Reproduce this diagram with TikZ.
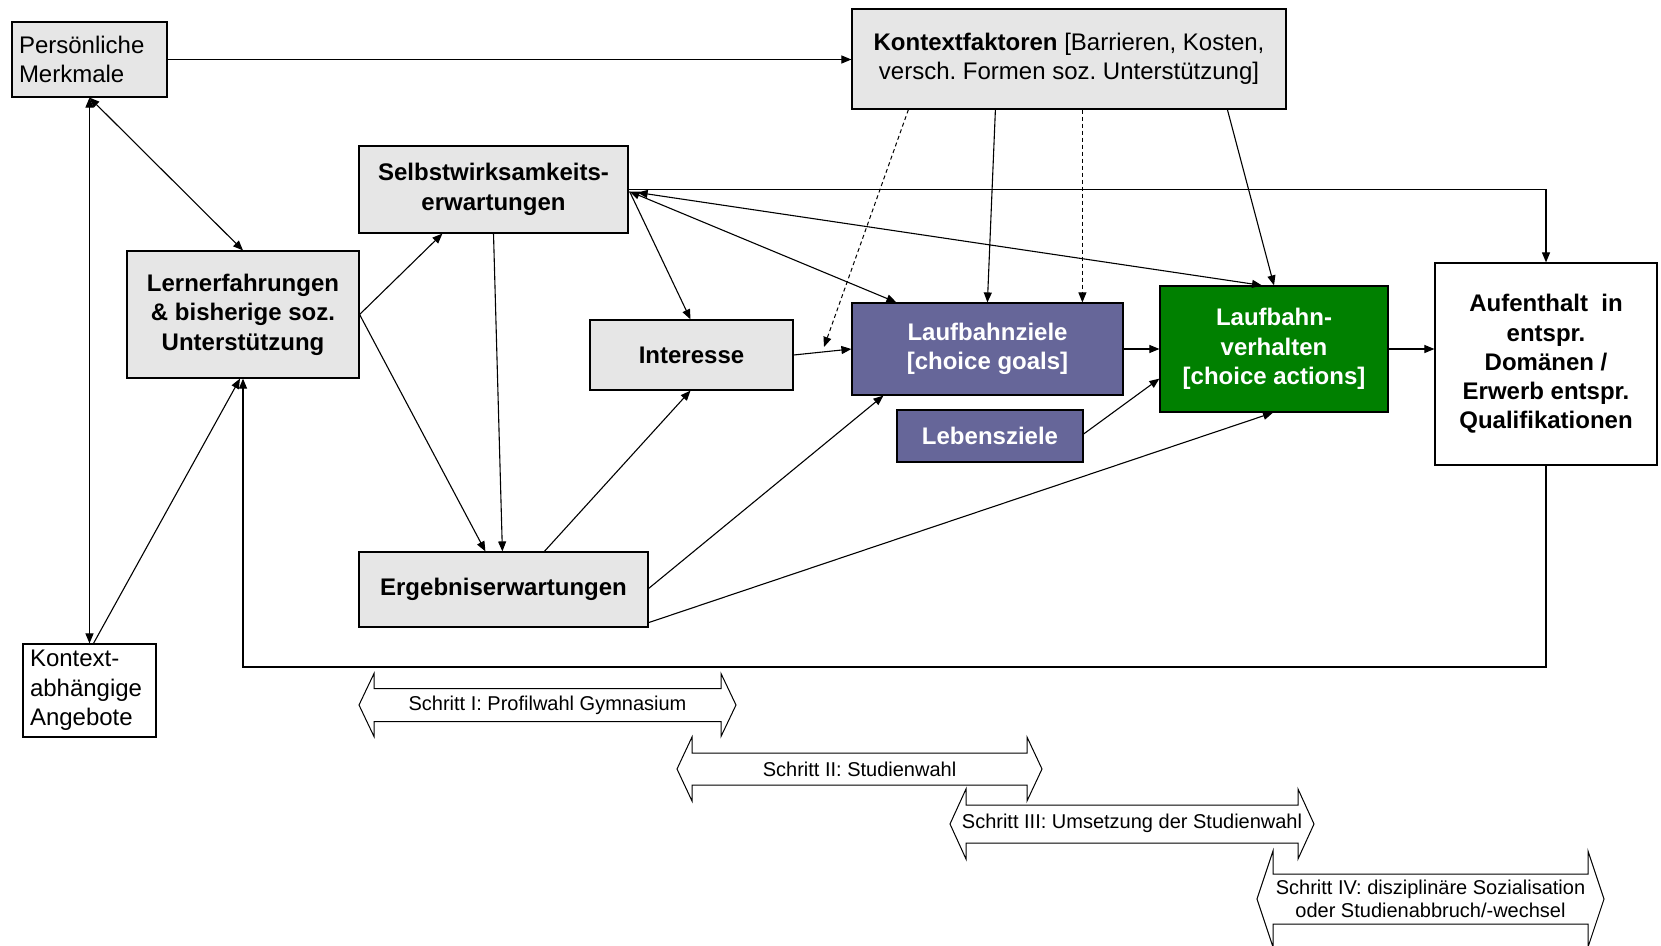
\documentclass[tikz,border=0pt]{standalone}
\usepackage{fontspec}
\setmainfont{Liberation Sans}
\usetikzlibrary{arrows.meta,calc}
\definecolor{boxgray}{HTML}{E6E6E6}
\definecolor{goalblue}{HTML}{666699}
\definecolor{actgreen}{HTML}{008000}
\frenchspacing
\begin{document}
\begin{tikzpicture}[x=1pt,y=-1pt,
  base/.style={draw=black, line width=1.2pt, inner sep=0pt, font=\fontsize{24pt}{29.5pt}\selectfont},
  graybox/.style={base, fill=boxgray, font=\bfseries\fontsize{24pt}{29.5pt}\selectfont, align=center},
  plainbox/.style={base, fill=boxgray, align=left},
  whitebox/.style={base, fill=white},
  goalbox/.style={base, fill=goalblue, text=white, font=\bfseries\fontsize{24pt}{29.5pt}\selectfont, align=center},
  actbox/.style={base, fill=actgreen, text=white, font=\bfseries\fontsize{24pt}{29.5pt}\selectfont, align=center},
  con/.style={line width=1.1pt, -{Triangle[length=10pt,width=8pt]}},
  dcon/.style={line width=1.1pt, {Triangle[length=10pt,width=8pt]}-{Triangle[length=10pt,width=8pt]}},
  dashcon/.style={line width=1pt, dash pattern=on 4pt off 3pt, -{Triangle[length=10pt,width=8pt]}},
  stepbox/.style={draw=black, line width=1pt, fill=white},
  steptext/.style={font=\fontsize{20pt}{22.5pt}\selectfont, align=center, inner sep=0pt}
]
\useasboundingbox (0,0) rectangle (1661,945);

% boxes
\node[plainbox, minimum width=155pt, minimum height=75pt, text width=141pt] (pm) at (89.5,59.5) {Pers\"onliche\\Merkmale};
\node[graybox, minimum width=434pt, minimum height=100pt] (kf) at (1069,59) {\textbf{Kontextfaktoren} \mdseries[Barrieren, Kosten,\\ \mdseries versch. Formen soz. Unterst\"utzung]};
\node[graybox, minimum width=269pt, minimum height=87pt] (se) at (493.5,189.5) {Selbstwirksamkeits-\\erwartungen};
\node[graybox, minimum width=232pt, minimum height=127pt] (le) at (243,314.5) {Lernerfahrungen\\\& bisherige soz.\\Unterst\"utzung};
\node[graybox, minimum width=203pt, minimum height=70pt] (in) at (691.5,355) {Interesse};
\node[goalbox, minimum width=271pt, minimum height=92pt] (lz) at (987.5,349) {Laufbahnziele\\{[}choice goals{]}};
\node[goalbox, minimum width=186pt, minimum height=52pt] (lb) at (990,436) {Lebensziele};
\node[actbox, minimum width=228pt, minimum height=126pt] (lv) at (1274,349) {Laufbahn-\\verhalten\\{[}choice actions{]}};
\node[whitebox, minimum width=222pt, minimum height=202pt, align=center, font=\bfseries\fontsize{24pt}{29.2pt}\selectfont] (au) at (1546,364) {Aufenthalt\ \ in\\entspr.\\Dom\"anen /\\Erwerb entspr.\\Qualifikationen};
\node[graybox, minimum width=289pt, minimum height=75pt] (er) at (503.5,589.5) {Ergebniserwartungen};
\node[whitebox, minimum width=133pt, minimum height=93pt, align=left, text width=119pt] (ka) at (89.5,690.5) {Kontext-\\abh\"angige\\Angebote};

\coordinate (fb) at (0,667);
\coordinate (dtip) at (824,347);

% connectors
\draw[con] (pm.east) -- (pm.east -| kf.west);
\draw[dcon] (pm.south) -- (ka.north);
\draw[dcon] (pm.south) -- (le.north);
\draw[con] ($(ka.north)+(4,0)$) -- ($(le.south)+(-3,0)$);
\draw[con] (au.south) -- (au.south |- fb) -- (le.south |- fb) -- (le.south);
\draw[con] (le.east) -- ($(se.south west)+(84,0)$);
\draw[con] (le.east) -- ($(er.north west)+(127,0)$);
\draw[con] (se.south) -- ($(er.north west)+(144,0)$);
\draw[con] ($(er.north west)+(186,0)$) -- ($(in.south)+(-1,0)$);
\draw[con] ($(er.east)+(0,-1)$) -- ($(lz.south west)+(32,0)$);
\draw[con] ($(er.south east)+(0,-5)$) -- ($(lv.south)+(-1,0)$);
\draw[con] (in.east) -- (lz.west);
\draw[con] ($(se.east)+(1,2)$) -- ($(in.north)+(-1,0)$);
\draw[dcon] ($(se.east)+(1,2)$) -- ($(lz.north west)+(45,0)$);
\draw[dcon] ($(se.east)+(9,3)$) -- ($(lv.north)+(-12,0)$);
\draw[con] (se.east) -- (au.north |- se.east) -- (au.north);
\draw[dashcon] ($(kf.south west)+(57,0)$) -- (dtip);
\draw[con] ($(kf.south west)+(144,0)$) -- ($(lz.north west)+(136,0)$);
\draw[dashcon] ($(kf.south west)+(231,0)$) -- ($(lz.north west)+(231,0)$);
\draw[con] ($(kf.south west)+(376,0)$) -- (lv.north);
\draw[con] (lz.east) -- (lv.west);
\draw[con] ($(lb.east)+(0,-2)$) -- ($(lv.south west)+(0,-34)$);
\draw[con] (lv.east) -- (au.west |- lv.east);

% steps
\draw[stepbox] (359,705) -- (374,673.5) -- (374,688.5) -- (721,688.5) -- (721,673.5) -- (736,705) -- (721,736.5) -- (721,721.5) -- (374,721.5) -- (374,736.5) -- cycle;
\node[steptext] (s1) at (547.5,705) {Schritt I: Profilwahl Gymnasium};
\draw[stepbox] (677,769) -- (692,737) -- (692,753) -- (1027,753) -- (1027,737) -- (1042,769) -- (1027,801) -- (1027,785) -- (692,785) -- (692,801) -- cycle;
\node[steptext] (s2) at (859.5,769) {Schritt II: Studienwahl};
\draw[stepbox] (950,824) -- (966,789) -- (966,805) -- (1298,805) -- (1298,789) -- (1314,824) -- (1298,859) -- (1298,843) -- (966,843) -- (966,859) -- cycle;
\node[steptext] (s3) at (1132,823) {Schritt III: Umsetzung der Studienwahl};
\draw[stepbox] (1257,899) -- (1273,851) -- (1273,874) -- (1588,874) -- (1588,851) -- (1604,899) -- (1588,947) -- (1588,924) -- (1273,924) -- (1273,947) -- cycle;
\node[steptext] (s4) at (1430.5,899) {Schritt IV: disziplin\"are Sozialisation\\oder Studienabbruch/-wechsel};
\end{tikzpicture}
\end{document}
